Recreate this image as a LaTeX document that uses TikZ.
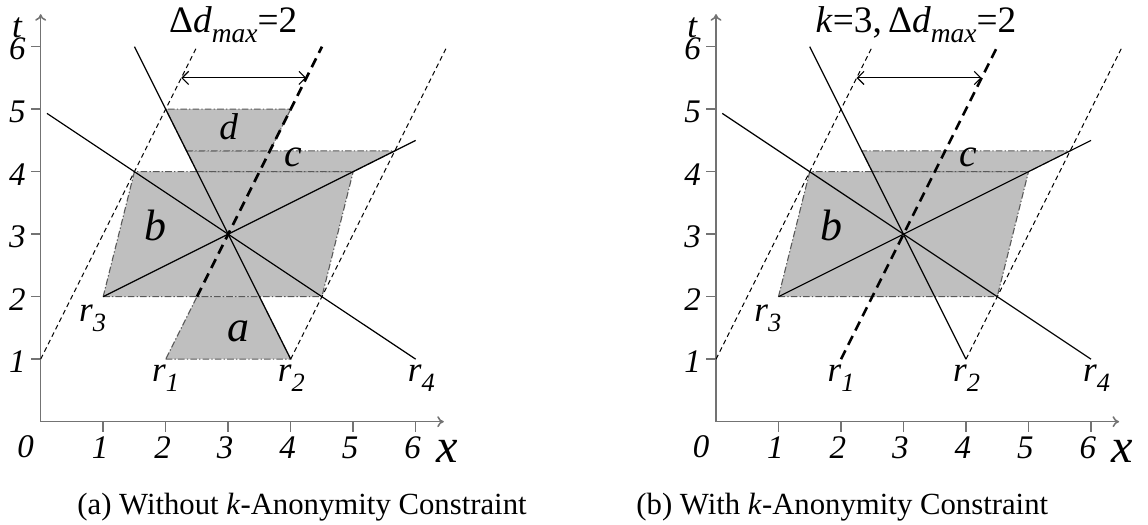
\documentclass[tikz,border=0pt]{standalone}
\usepackage{fontspec}
\setmainfont{Liberation Serif}
\usetikzlibrary{arrows.meta}

\newcommand{\fsz}[1]{\fontsize{#1}{#1}\selectfont}
\newcommand{\rlab}[1]{\textit{r}\raisebox{-4.5pt}{\fsz{12}\textit{#1}}}
\newcommand{\dmax}{Δ\textit{d}\raisebox{-4.5pt}{\fsz{12.5}\textit{max}}=2}

% axes, bounds and the three solid trajectories, same in both panels
\newcommand{\panelbase}{%
  \coordinate (o) at (0,0);
  \coordinate (r1) at (2,1);
  \coordinate (r2) at (4,1);
  \coordinate (r3) at (1,2);
  \coordinate (r4) at (6,1);
  \coordinate (lo) at (0,1);
  \draw[axis,-{To[length=3pt,width=5pt]}] (o) -- (0,6.52);
  \draw[axis,-{To[length=3pt,width=5pt]}] (o) -- (6.45,0);
  \foreach \i in {1,...,6} {
    \draw[axis] (\i,0) -- (\i,-0.16);
    \draw[axis] (0,\i) -- (-0.16,\i);
    \node[tck] (xt\i) at (\i-0.05,-0.42) {\i};
    \node[tck, anchor=east] (yt\i) at (-0.2,\i-0.04) {\i};
  }
  \node[tck] (zero) at (-0.24,-0.4) {0};
  \node[font=\fsz{16}\itshape] (tlab) at (-0.38,6.3) {t};
  \node[font=\fsz{22}\itshape] (xlab) at (6.5,-0.47) {x};
  % dotted bounds
  \draw[bound] (lo) -- (2.5,6);
  \draw[bound] (r2) -- (6.5,6);
  % trajectories
  \draw[traj] (r2) -- (1.5,6);
  \draw[traj] (r4) -- (0.1,4.933);
  \draw[traj] (r3) -- (6,4.5);
  \coordinate (dl) at (2.25,5.5);
  \coordinate (dr) at (4.25,5.5);
  \draw[line width=0.5pt,{Straight Barb[length=3pt]}-{Straight Barb[length=3pt]}] (dl) -- (dr);
  \node[lbl] (lr1) at (2.0,0.64) {\rlab{1}};
  \node[lbl] (lr2) at (4.01,0.64) {\rlab{2}};
  \node[lbl] (lr3) at (0.83,1.6) {\rlab{3}};
  \node[lbl] (lr4) at (6.09,0.64) {\rlab{4}};
  \node[lbl, font=\fsz{20}\itshape] (lb) at (1.84,2.9) {b};
  \node[lbl, font=\fsz{18}\itshape] (lc) at (4.04,4.08) {c};
}

\begin{document}
\begin{tikzpicture}[
  region/.style={fill=black!25, draw=black!65, line width=0.5pt,
    dash pattern=on 3pt off 1pt on 0.6pt off 1pt},
  traj/.style={line width=0.55pt},
  ktraj/.style={line width=1.2pt, dash pattern=on 4.5pt off 2.8pt},
  bound/.style={line width=0.45pt, dash pattern=on 2.2pt off 1.6pt},
  axis/.style={draw=black!55, line width=0.7pt},
  tck/.style={font=\fsz{15}\itshape, inner sep=1pt},
  lbl/.style={anchor=base, inner sep=0pt, font=\fsz{16}},
  capt/.style={anchor=base west, inner sep=0pt, font=\fsz{14}}]
\useasboundingbox (-0.651,-1.653) rectangle (17.717,6.747);

% (a) no k-anonymity
\begin{scope}[name prefix=a-]
\draw[region] (1,2) -- (4.5,2) -- (5,4) -- (1.5,4) -- cycle;
\draw[region] (2.5,4) -- (5,4) -- (17/3,13/3) -- (7/3,13/3) -- cycle;
\draw[region] (2,1) -- (4,1) -- (3.5,2) -- (2.5,2) -- cycle;
\draw[region] (7/3,13/3) -- (11/3,13/3) -- (4,5) -- (2,5) -- cycle;
\panelbase
\coordinate (ka) at (2.5,2);
\draw[ktraj] (ka) -- (4.5,6);
\node[lbl, font=\fsz{20}\itshape] (la) at (3.16,1.275) {a};
\node[lbl, font=\fsz{17}\itshape] (ld) at (3.01,4.51) {d};
\node[lbl, font=\fsz{17}] (top) at (3.08,6.22) {\dmax};
\node[capt] (cap) at (0.58,-1.49) {(a) Without \textit{k}-Anonymity Constraint};
\end{scope}

% (b) with k-anonymity
\begin{scope}[xshift=10.805cm, name prefix=b-]
\draw[region] (1,2) -- (4.5,2) -- (5,4) -- (1.5,4) -- cycle;
\draw[region] (2.5,4) -- (5,4) -- (17/3,13/3) -- (7/3,13/3) -- cycle;
\panelbase
\draw[ktraj] (r1) -- (4.5,6);
\node[lbl, font=\fsz{17}] (top) at (3.2,6.22) {\textit{k}=3,\,\dmax};
\node[capt] (cap) at (-1.28,-1.49) {(b) With \textit{k}-Anonymity Constraint};
\end{scope}
\end{tikzpicture}
\end{document}
